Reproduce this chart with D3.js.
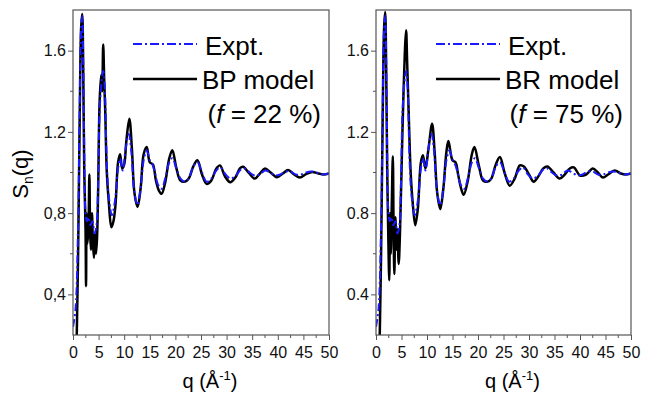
<!DOCTYPE html>
<html>
<head>
<meta charset="utf-8">
<script src="https://cdn.jsdelivr.net/npm/d3@7"></script>
<style>
  body { margin: 0; background: #fff; }
  svg { display: block; font-family: "Liberation Sans", Arial, sans-serif; }
</style>
</head>
<body>
<div id="chart"></div>
<script>
// experimental S_n(q), shared by both panels: [q, S]
const expt = [
  [0.0, 0.24], [0.5, 0.33], [1.0, 0.75], [1.3, 1.3], [1.6, 1.72], [1.8, 1.77], [2.0, 1.55],
  [2.2, 1.1], [2.4, 0.82], [2.7, 0.76], [3.0, 0.78], [3.4, 0.74], [3.8, 0.76], [4.2, 0.70],
  [4.6, 0.74], [4.9, 0.95], [5.2, 1.30], [5.6, 1.45], [5.9, 1.50], [6.2, 1.42], [6.6, 1.05],
  [7.0, 0.88], [7.6, 0.79], [8.2, 0.86], [8.8, 1.02], [9.2, 1.07], [9.7, 1.01], [10.3, 1.12],
  [10.9, 1.19], [11.4, 1.10], [12.0, 0.90], [12.6, 0.84], [13.2, 0.92], [13.8, 1.06],
  [14.4, 1.11], [15.0, 1.06], [15.5, 1.04], [16.0, 1.00], [16.6, 0.94], [17.3, 0.92],
  [18.0, 0.97], [18.8, 1.05], [19.4, 1.07], [20.2, 1.02], [21.0, 0.97], [21.9, 0.955],
  [22.6, 0.97], [23.5, 1.03], [24.3, 1.05], [25.2, 1.00], [26.1, 0.955], [27.0, 0.97],
  [28.0, 1.01], [28.8, 1.025], [29.8, 0.99], [30.8, 0.97], [31.8, 0.985], [32.8, 1.015],
  [33.6, 1.02], [34.5, 1.0], [35.5, 0.985], [36.5, 0.99], [37.5, 1.01], [38.5, 1.0],
  [39.5, 0.985], [40.5, 0.99], [41.5, 1.005], [42.5, 1.005], [43.5, 0.99], [44.5, 0.99],
  [45.5, 1.0], [46.5, 1.005], [47.5, 1.0], [48.5, 0.99], [50, 0.995]
];

// BP model (f = 22 %)
const bpModel = [
  [0.7, 0.15], [1.0, 0.6], [1.3, 1.25], [1.6, 1.72], [1.8, 1.78], [2.0, 1.5], [2.2, 1.0],
  [2.45, 0.72], [2.55, 0.44], [2.65, 0.80], [2.8, 0.65], [3.0, 0.72], [3.2, 0.99], [3.35, 0.70],
  [3.5, 0.62], [3.7, 0.80], [3.9, 0.65], [4.1, 0.58], [4.3, 0.70], [4.5, 0.60], [4.7, 0.68],
  [4.9, 0.90], [5.2, 1.35], [5.5, 1.48], [5.7, 1.40], [5.9, 1.63], [6.1, 1.45], [6.3, 1.30],
  [6.6, 1.0], [7.0, 0.85], [7.5, 0.73], [7.9, 0.76], [8.3, 0.84], [8.8, 1.05], [9.2, 1.09],
  [9.6, 1.02], [10.0, 1.04], [10.4, 1.15], [11.0, 1.265], [11.5, 1.12], [12.0, 0.90],
  [12.6, 0.83], [13.2, 0.92], [13.8, 1.09], [14.4, 1.125], [15.0, 1.05], [15.6, 1.04],
  [16.2, 0.96], [16.8, 0.91], [17.3, 0.895], [18.0, 0.95], [18.8, 1.07], [19.4, 1.11],
  [20.2, 1.02], [21.0, 0.96], [21.9, 0.955], [22.6, 0.97], [23.5, 1.03], [24.3, 1.06],
  [25.2, 0.99], [26.1, 0.944], [27.0, 0.96], [28.0, 1.02], [28.7, 1.035], [29.7, 0.98],
  [30.7, 0.952], [31.7, 0.975], [32.6, 1.02], [33.2, 1.028], [34.3, 1.0], [35.5, 0.97],
  [36.5, 0.995], [37.5, 1.02], [38.6, 1.0], [39.8, 0.977], [41.0, 0.995], [42.0, 1.012],
  [43.2, 0.99], [44.3, 0.975], [45.5, 0.992], [46.7, 1.003], [48, 0.995], [49, 0.99], [50, 0.995]
];

// BR model (f = 75 %)
const brModel = [
  [0.7, 0.15], [1.0, 0.6], [1.3, 1.25], [1.6, 1.72], [1.8, 1.79], [2.0, 1.5], [2.2, 1.0],
  [2.4, 0.70], [2.6, 0.47], [2.75, 0.80], [2.9, 0.60], [3.1, 0.85], [3.3, 1.08], [3.45, 0.72],
  [3.6, 0.50], [3.8, 0.78], [4.0, 0.62], [4.2, 0.72], [4.45, 0.55], [4.7, 0.70], [5.0, 1.0],
  [5.4, 1.40], [5.9, 1.70], [6.1, 1.55], [6.4, 1.30], [6.8, 1.0], [7.2, 0.85], [7.7, 0.74],
  [8.2, 0.82], [8.8, 1.05], [9.2, 1.085], [9.7, 1.02], [10.3, 1.12], [11.0, 1.24], [11.5, 1.10],
  [12.0, 0.90], [12.6, 0.82], [13.2, 0.92], [13.8, 1.10], [14.2, 1.155], [15.0, 1.06],
  [15.6, 1.05], [16.1, 0.99], [16.7, 0.92], [17.2, 0.89], [18.0, 0.96], [18.8, 1.09],
  [19.3, 1.125], [20.2, 1.03], [21.0, 0.96], [21.9, 0.955], [22.6, 0.97], [23.5, 1.04],
  [24.3, 1.076], [25.2, 1.00], [26.2, 0.935], [27.2, 0.97], [28.2, 1.035], [29.0, 1.03],
  [30.0, 0.99], [30.9, 0.955], [31.8, 0.98], [32.8, 1.02], [33.6, 1.03], [34.8, 1.0],
  [36.0, 0.97], [37.0, 0.99], [38.0, 1.02], [38.8, 1.025], [40.0, 0.985], [41.2, 0.99],
  [42.5, 1.02], [43.5, 1.0], [44.5, 0.975], [45.5, 0.99], [46.8, 1.01], [48, 0.995],
  [49, 0.99], [50, 0.995]
];

const xTicks = [0, 5, 10, 15, 20, 25, 30, 35, 40, 45, 50];
const yTicks = [0.4, 0.8, 1.2, 1.6];
const yLabelsLeft = ["0,4", "0,8", "1.2", "1.6"];
const yLabelsRight = ["0.4", "0.8", "1.2", "1.6"];

const W = 650, H = 397;
const plotTop = 10, plotBottom = 335;

const svg = d3.select("#chart").append("svg")
  .attr("width", W).attr("height", H);

const panels = [
  { id: "a", x0: 73, x1: 329, model: bpModel, name: "BP model", frac: "22 %", yLabels: yLabelsLeft },
  { id: "b", x0: 376, x1: 631, model: brModel, name: "BR model", frac: "75 %", yLabels: yLabelsRight }
];

panels.forEach(p => {
  const x = d3.scaleLinear().domain([0, 50]).range([p.x0, p.x1]);
  const y = d3.scaleLinear().domain([0.2, 1.8]).range([plotBottom, plotTop]);
  const g = svg.append("g");

  svg.append("clipPath").attr("id", "clip-" + p.id)
    .append("rect")
    .attr("x", p.x0).attr("y", plotTop)
    .attr("width", p.x1 - p.x0).attr("height", plotBottom - plotTop);

  const line = d3.line()
    .x(d => x(d[0])).y(d => y(d[1]))
    .curve(d3.curveCatmullRom.alpha(0.5));

  const curves = g.append("g").attr("clip-path", `url(#clip-${p.id})`);
  curves.append("path")
    .datum(p.model)
    .attr("fill", "none")
    .attr("stroke", "#000")
    .attr("stroke-width", 2.5)
    .attr("stroke-linejoin", "round")
    .attr("d", line);
  curves.append("path")
    .datum(expt)
    .attr("fill", "none")
    .attr("stroke", "#1a1aff")
    .attr("stroke-width", 2)
    .attr("stroke-dasharray", "8,3,2,3")
    .attr("d", line);

  // x axis
  const xAxis = d3.axisBottom(x)
    .tickValues(xTicks)
    .tickSize(5)
    .tickSizeOuter(0)
    .tickFormat(d3.format("d"));
  const gx = g.append("g").attr("transform", `translate(0,${plotBottom})`).call(xAxis);
  gx.selectAll("text").attr("font-size", 16).attr("fill", "#111").attr("dy", "0.95em");

  const xMinor = [2.5, 7.5, 12.5, 17.5, 22.5, 27.5, 32.5, 37.5, 42.5, 47.5];
  g.append("g").selectAll("line").data(xMinor).join("line")
    .attr("x1", d => x(d)).attr("x2", d => x(d))
    .attr("y1", plotBottom).attr("y2", plotBottom + 3)
    .attr("stroke", "#555");

  // y axis
  const yAxis = d3.axisLeft(y)
    .tickValues(yTicks)
    .tickSize(5)
    .tickSizeOuter(0)
    .tickFormat((d, i) => p.yLabels[i]);
  const gy = g.append("g").attr("transform", `translate(${p.x0},0)`).call(yAxis);
  gy.selectAll("text").attr("font-size", 16).attr("fill", "#111").attr("x", -7);

  const yMinor = [0.6, 1.0, 1.4];
  g.append("g").selectAll("line").data(yMinor).join("line")
    .attr("x1", p.x0 - 3).attr("x2", p.x0)
    .attr("y1", d => y(d)).attr("y2", d => y(d))
    .attr("stroke", "#555");

  [gx, gy].forEach(a => {
    a.selectAll(".domain").remove();
    a.selectAll(".tick line").attr("stroke", "#555");
  });

  // frame
  g.append("rect")
    .attr("x", p.x0).attr("y", plotTop)
    .attr("width", p.x1 - p.x0).attr("height", plotBottom - plotTop)
    .attr("fill", "none").attr("stroke", "#555").attr("stroke-width", 1.2);

  // legend
  const lx = p.x0 + 60;
  const leg = g.append("g");
  leg.append("line")
    .attr("x1", lx).attr("x2", lx + 64).attr("y1", 44).attr("y2", 44)
    .attr("stroke", "#1a1aff").attr("stroke-width", 2.2)
    .attr("stroke-dasharray", "9,3,2,3");
  leg.append("text").attr("x", lx + 72).attr("y", 55)
    .attr("font-size", 26).text("Expt.");
  leg.append("line")
    .attr("x1", lx).attr("x2", lx + 64).attr("y1", 79).attr("y2", 79)
    .attr("stroke", "#000").attr("stroke-width", 2.4);
  leg.append("text").attr("x", lx + 69).attr("y", 89)
    .attr("font-size", 26).text(p.name);
  const ft = leg.append("text").attr("x", p.x1 - 8).attr("y", 123)
    .attr("text-anchor", "end").attr("font-size", 26);
  ft.append("tspan").text("(");
  ft.append("tspan").attr("font-style", "italic").text("f");
  ft.append("tspan").text(" = " + p.frac + ")");

  // x label
  const xl = g.append("text")
    .attr("x", (p.x0 + p.x1) / 2 + 9).attr("y", 388)
    .attr("text-anchor", "middle").attr("font-size", 20);
  xl.append("tspan").text("q (Å");
  xl.append("tspan").attr("font-size", 13).attr("dy", -8).text("-1");
  xl.append("tspan").attr("dy", 8).text(")");
});

// y label, left panel only
const yl = svg.append("text")
  .attr("transform", "translate(28,174) rotate(-90)")
  .attr("text-anchor", "middle").attr("font-size", 22);
yl.append("tspan").text("S");
yl.append("tspan").attr("font-size", 14).attr("dy", 5).text("n");
yl.append("tspan").attr("dy", -5).text("(q)");
</script>
</body>
</html>
